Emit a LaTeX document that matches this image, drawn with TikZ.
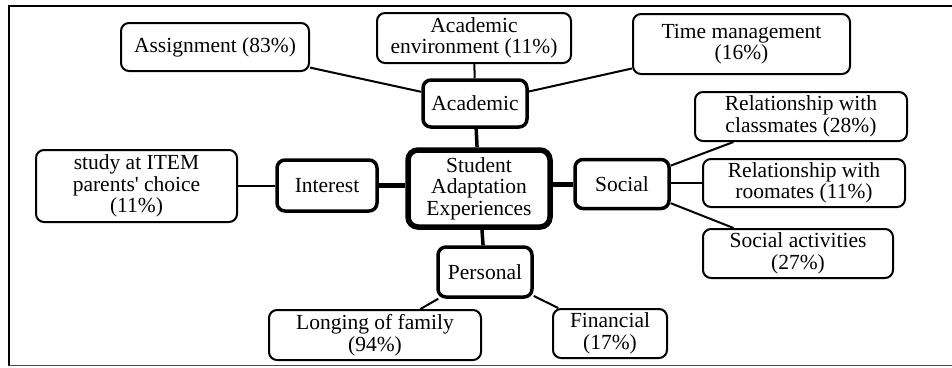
\documentclass[tikz,border=0pt]{standalone}
\usepackage{fontspec}
\setmainfont{Liberation Serif}
\begin{document}
\begin{tikzpicture}[x=1pt,y=-1pt,
  box/.style={draw, rounded corners=8pt, line width=2pt, inner sep=0pt, align=center,
    font=\fontsize{21.5}{21.5}\selectfont},
  midbox/.style={box, line width=3.5pt},
  corebox/.style={box, line width=5.5pt, rounded corners=10pt},
  thin/.style={line width=2pt},
  mid/.style={line width=3.5pt},
  thick/.style={line width=5pt}]
\useasboundingbox (0,0) rectangle (952,367);
% frame
\coordinate (ftl) at (9,6);
\coordinate (ftr) at (952,6);
\coordinate (fbl) at (9,365.5);
\coordinate (fbr) at (952,365.5);
\draw[line width=2pt] (ftr) -- (ftl) -- (fbl);
\draw[line width=1.5pt, black!70] (fbl) -- (fbr);
% nodes
\node[box, minimum width=188pt, minimum height=48pt] (assign) at (215,47) {Assignment (83\%)};
\node[box, minimum width=194pt, minimum height=50pt] (acenv) at (474,38) {Academic\\environment (11\%)};
\node[box, minimum width=217pt, minimum height=60pt] (time) at (741.5,44) {Time management\\(16\%)};
\node[midbox, minimum width=104pt, minimum height=47pt] (acad) at (475,103.5) {Academic};
\node[corebox, minimum width=142pt, minimum height=77pt] (central) at (479,188.5) {Student\\Adaptation\\Experiences};
\node[midbox, minimum width=100pt, minimum height=51pt] (interest) at (327,185.5) {Interest};
\node[midbox, minimum width=94pt, minimum height=49pt] (social) at (622,184) {Social};
\node[box, minimum width=201pt, minimum height=72pt] (study) at (136.5,186) {study at ITEM\\parents\textquotesingle{} choice\\(11\%)};
\node[box, minimum width=212pt, minimum height=49pt] (class) at (801,116.5) {Relationship with\\classmates (28\%)};
\node[box, minimum width=202pt, minimum height=48pt] (room) at (804,183) {Relationship with\\roomates (11\%)};
\node[box, minimum width=190pt, minimum height=49pt] (activ) at (798,253.5) {Social activities\\(27\%)};
\node[midbox, minimum width=94pt, minimum height=50pt] (personal) at (485,272) {Personal};
\node[box, minimum width=212pt, minimum height=50pt] (longing) at (375,335) {Longing of family\\(94\%)};
\node[box, minimum width=114pt, minimum height=49pt] (financial) at (610,333.5) {Financial\\(17\%)};
% connectors
\draw[thin] (assign) -- (acad);
\draw[thin] (acenv) -- (acad);
\draw[thin] (time) -- (acad);
\draw[mid] (acad) -- (central);
\draw[thin] (study.east |- interest.west) -- (interest.west);
\draw[thick] (interest.east) -- (interest.east -| central.west);
\draw[thick] (central.east |- social.west) -- (social.west);
\draw[thin] (social) -- (class);
\draw[thin] (social.east |- room.west) -- (room.west);
\draw[thin] (social) -- (activ);
\draw[mid] (central) -- (personal);
\draw[thin] (personal) -- (longing);
\draw[thin] (personal) -- (financial);
\end{tikzpicture}
\end{document}
